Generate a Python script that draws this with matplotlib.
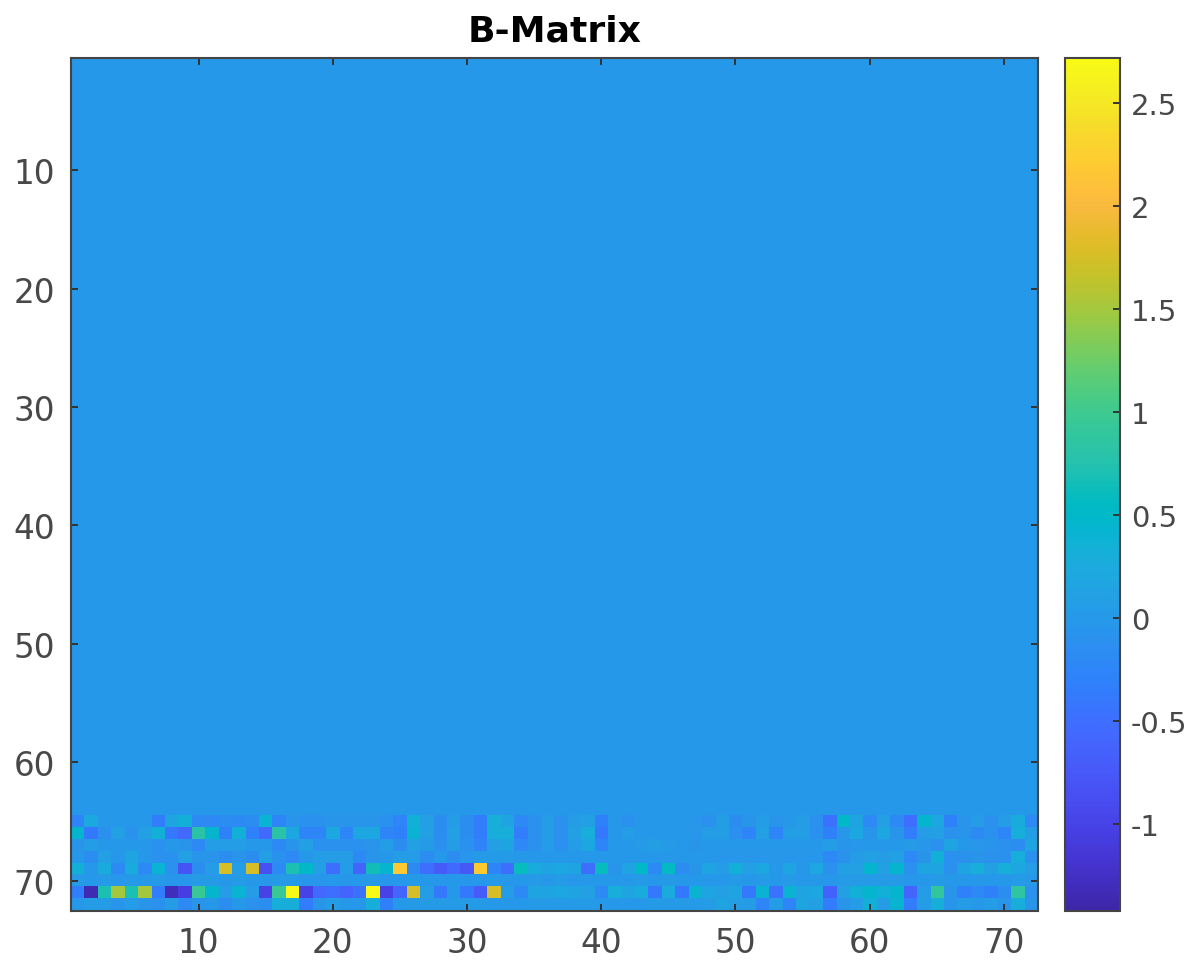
#!/usr/bin/env python3
"""B-Matrix heatmap: 72 x 72, only the last eight rows are non zero."""

import matplotlib.pyplot as plt
import numpy as np
from matplotlib.colors import LinearSegmentedColormap

# MATLAB parula, sampled at 64 points
parula_rgb = [
    (0.2422, 0.1504, 0.6603), (0.2504, 0.1650, 0.7076), (0.2578, 0.1818, 0.7511), (0.2647, 0.1978, 0.7952),
    (0.2706, 0.2147, 0.8364), (0.2751, 0.2342, 0.8710), (0.2783, 0.2559, 0.8991), (0.2803, 0.2782, 0.9221),
    (0.2813, 0.3006, 0.9414), (0.2810, 0.3228, 0.9579), (0.2795, 0.3447, 0.9717), (0.2760, 0.3667, 0.9829),
    (0.2699, 0.3892, 0.9906), (0.2602, 0.4123, 0.9952), (0.2440, 0.4358, 0.9988), (0.2206, 0.4603, 0.9973),
    (0.1963, 0.4847, 0.9892), (0.1834, 0.5074, 0.9798), (0.1786, 0.5289, 0.9682), (0.1764, 0.5499, 0.9520),
    (0.1687, 0.5703, 0.9359), (0.1540, 0.5902, 0.9218), (0.1460, 0.6091, 0.9079), (0.1380, 0.6276, 0.8973),
    (0.1248, 0.6459, 0.8883), (0.1113, 0.6635, 0.8763), (0.0952, 0.6798, 0.8598), (0.0689, 0.6948, 0.8394),
    (0.0297, 0.7082, 0.8163), (0.0036, 0.7203, 0.7917), (0.0067, 0.7312, 0.7660), (0.0433, 0.7411, 0.7394),
    (0.0964, 0.7500, 0.7120), (0.1408, 0.7584, 0.6842), (0.1717, 0.7670, 0.6554), (0.1938, 0.7758, 0.6251),
    (0.2161, 0.7843, 0.5923), (0.2470, 0.7918, 0.5567), (0.2906, 0.7973, 0.5188), (0.3406, 0.8008, 0.4789),
    (0.3909, 0.8029, 0.4354), (0.4456, 0.8024, 0.3909), (0.5044, 0.7993, 0.3480), (0.5616, 0.7942, 0.3045),
    (0.6174, 0.7876, 0.2612), (0.6720, 0.7793, 0.2227), (0.7242, 0.7698, 0.1910), (0.7738, 0.7598, 0.1646),
    (0.8203, 0.7498, 0.1535), (0.8634, 0.7406, 0.1596), (0.9035, 0.7330, 0.1774), (0.9393, 0.7288, 0.2100),
    (0.9728, 0.7298, 0.2394), (0.9956, 0.7434, 0.2371), (0.9970, 0.7659, 0.2199), (0.9952, 0.7861, 0.1999),
    (0.9892, 0.8134, 0.1888), (0.9786, 0.8362, 0.1780), (0.9676, 0.8589, 0.1640), (0.9610, 0.8890, 0.1537),
    (0.9597, 0.9135, 0.1423), (0.9628, 0.9373, 0.1265), (0.9691, 0.9606, 0.1064), (0.9769, 0.9839, 0.0805),
]

n_size = 72
row_65 = [-0.25, 0.2, 0, 0, 0, 0, -0.35, 0.15, 0.35, -0.2, -0.2, -0.15, -0.2, -0.15, 0.4, -0.25, -0.05, -0.1, -0.1,
          -0.05, -0.05, -0.05, -0.05, -0.1, -0.25, 0.35, 0.1, -0.15, 0.05, -0.15, -0.35, 0.3, 0.15, -0.2, -0.1, 0.05,
          -0.1, 0.05, 0.1, -0.3, 0, -0.1, 0, 0, 0, 0, -0.03, -0.1, 0.08, -0.15, -0.05, 0.05, -0.05, 0, 0.05, -0.1,
          -0.45, 0.5, 0.15, -0.2, 0.1, -0.2, -0.5, 0.45, 0.2, -0.3, -0.05, 0.05, -0.1, 0.05, 0.25, -0.2]
row_66 = [0.45, -0.4, -0.1, 0.1, -0.1, 0.1, 0.35, -0.4, -0.55, 0.8, 0.45, -0.3, 0.35, -0.3, -0.55, 0.8, 0.2, -0.25,
          -0.25, 0.2, -0.25, 0.2, 0.2, -0.25, -0.3, 0.4, 0.1, -0.15, 0.1, -0.15, -0.35, 0.3, 0.3, -0.35, -0.1, 0.05,
          -0.1, 0.1, 0.3, -0.4, 0, 0.05, 0, 0, 0, 0, -0.03, 0.05, 0.08, -0.1, -0.25, 0.1, -0.25, 0.08, 0.08, -0.1,
          -0.3, -0.02, 0.2, -0.05, 0.2, -0.05, -0.35, 0.05, 0.1, -0.1, -0.05, -0.2, -0.1, -0.25, 0.3, 0.05]
row_67 = [-0.05, 0.05, 0, 0, 0, 0, -0.1, 0, -0.05, -0.2, 0.05, 0.05, 0.05, 0, 0, -0.2, -0.05, 0.1, -0.1, -0.1,
          -0.1, -0.1, -0.05, 0.05, -0.15, 0.1, 0.03, -0.1, 0.05, -0.1, -0.25, 0.1, 0.15, -0.2, -0.1, 0.05, -0.12,
          0.05, 0.2, -0.25, 0, 0, 0.03, 0.08, 0.03, 0, -0.05, 0, 0, 0, 0, 0, 0, 0, 0, 0, 0.05, -0.05, -0.02, 0, 0, 0,
          0.03, -0.03, -0.1, 0.15, 0, -0.03, -0.05, -0.1, -0.15, 0.15]
row_68 = [0, -0.15, 0.1, 0, 0.15, 0, -0.1, -0.1, 0.1, -0.05, -0.05, -0.15, -0.05, -0.15, 0.1, -0.1, -0.2, 0, 0.05,
          0.05, 0.05, -0.2, -0.05, 0, 0.05, 0.05, -0.15, 0, -0.15, -0.03, 0.03, 0.03, 0.03, 0, 0, 0, 0, 0, 0, 0, 0, 0,
          0, 0, 0, 0, 0, 0, -0.02, -0.02, -0.02, -0.02, -0.02, -0.02, -0.02, -0.02, -0.2, -0.08, 0.05, 0.1, 0.05, 0.1,
          -0.2, -0.05, 0.35, -0.12, -0.08, -0.05, -0.08, -0.1, 0.3, -0.1]
row_69 = [0.35, 0, 0.25, -0.2, 0.25, -0.2, 0.4, -0.1, -0.8, -0.15, 0.05, 1.75, 0.05, 1.75, -0.85, -0.2, 0.7, 0.5,
          0.1, -0.5, 0.05, -0.6, 0.65, 0.45, 2.2, -0.2, -0.5, -0.7, -0.55, -0.75, 2.2, -0.25, -0.5, 0.6, 0.25, 0.15,
          0.2, 0.15, -0.5, 0.6, -0.05, 0.15, 0.5, -0.2, 0.55, -0.15, -0.05, 0.15, 0.05, 0.35, 0.1, 0.2, 0, 0.15, 0,
          0.2, -0.1, 0.1, 0.1, 0.45, 0.1, 0.45, -0.1, 0.15, 0.15, -0.1, 0.15, 0.3, 0.1, 0.3, 0.2, 0.05]
row_70 = [0.02, 0, 0.02, -0.02, 0.02, 0, 0.02, -0.02, -0.02, 0.02, 0.02, 0, 0.02, 0, -0.02, 0.02, 0.03, -0.02,
          -0.02, 0, -0.02, 0, 0.02, -0.02, -0.02, 0.02, 0, -0.02, 0, -0.02, -0.02, 0.02, 0, 0, 0.02, 0, 0.02, 0, 0, 0,
          0, 0, 0.02, 0, 0.02, 0, 0, 0, 0, 0.02, 0, 0.02, 0, 0.02, 0, 0, -0.02, 0.02, 0.02, 0.02, 0.02, 0.02, -0.02, 0,
          0.02, 0, 0, 0, 0, 0, 0.02, 0]
row_71 = [-0.35, -1.35, 0.7, 1.5, 0.7, 1.5, -0.35, -1.3, -1.05, 0.95, 0.45, 0.05, 0.4, 0.05, -1.0, 0.95, 2.7, -1.0,
          -0.55, -0.5, -0.6, -0.45, 2.7, -1.0, -0.6, 1.75, 0.05, -0.4, 0, -0.4, -0.7, 1.75, 0.05, -0.2, 0.15, 0.15,
          0.2, 0.15, 0.1, -0.2, 0.3, 0.15, 0.25, -0.4, 0.25, -0.4, 0.4, 0.15, 0.1, 0.15, -0.4, 0.4, -0.45, 0.4, 0.15,
          0.2, -0.65, 0.1, 0.35, 0.45, 0.35, 0.45, -0.6, 0.05, 0.9, -0.05, -0.3, -0.2, -0.3, -0.15, 0.85, -0.1]
row_72 = [0, 0.05, 0.05, -0.05, 0.05, -0.05, -0.1, 0.05, -0.2, -0.05, 0, -0.15, 0, -0.1, -0.15, 0.3, 0.3, -0.35,
          -0.05, 0.05, 0, 0, 0.3, -0.3, 0, 0.02, 0.02, 0.02, 0.02, 0.02, 0.02, 0, 0, 0, 0.02, 0.02, 0.02, 0.02, 0.02,
          0, 0, 0, 0, 0.02, 0.02, 0.02, 0.02, 0.05, 0.15, 0.05, 0.05, -0.25, 0.05, -0.25, 0.15, 0.1, -0.35, -0.05,
          0.05, 0.35, 0.05, 0.4, -0.35, 0.05, 0.3, -0.05, 0.05, 0, 0.05, -0.05, 0.3, -0.05]

x_ticks = [10, 20, 30, 40, 50, 60, 70]
y_ticks = [10, 20, 30, 40, 50, 60, 70]
cbar_ticks = [-1, -0.5, 0, 0.5, 1, 1.5, 2, 2.5]
cbar_labels = ["-1", "-0.5", "0", "0.5", "1", "1.5", "2", "2.5"]
vmin, vmax = -1.42, 2.72

matrix = np.zeros((n_size, n_size))
matrix[64:] = np.array([row_65, row_66, row_67, row_68, row_69, row_70, row_71, row_72])

parula = LinearSegmentedColormap.from_list("parula", parula_rgb, N=256)
dark = "#484848"

fig = plt.figure(figsize=(11.96, 9.70), dpi=100)
W, H = 1196, 970
top, bottom = 58.5, 911.5
ax = fig.add_axes([71 / W, 1 - bottom / H, (1037.5 - 71) / W, (bottom - top) / H])
im = ax.imshow(matrix, cmap=parula, vmin=vmin, vmax=vmax, aspect="auto",
               interpolation="nearest", extent=(0.5, 72.5, 72.5, 0.5))
ax.set_xticks(x_ticks)
ax.set_yticks(y_ticks)
ax.tick_params(direction="in", length=5, width=1.4, top=True, right=True,
               labelsize=23.5, labelcolor=dark, color="#333333")
ax.tick_params(axis="x", pad=11.5)
ax.tick_params(axis="y", pad=11.5)
for spine in ax.spines.values():
    spine.set_linewidth(1.5)
    spine.set_color("#444444")
ax.set_title("B-Matrix", fontsize=26, fontweight="bold", color="black", pad=12.5)

cax = fig.add_axes([1065 / W, 1 - bottom / H, (1120 - 1065) / W, (bottom - top) / H])
cb = fig.colorbar(im, cax=cax)
cb.set_ticks(cbar_ticks, labels=cbar_labels)
cb.ax.tick_params(direction="in", length=5, width=1.4, labelsize=21,
                  labelcolor=dark, color="#333333", pad=8)
cb.outline.set_linewidth(1.5)
cb.outline.set_edgecolor("#444444")

for name, row in [("65", row_65), ("66", row_66), ("67", row_67), ("68", row_68),
                  ("69", row_69), ("70", row_70), ("71", row_71), ("72", row_72)]:
    if len(row) != n_size:
        print("row", name, "has", len(row), "values")

fig.savefig("out.png", dpi=100)
